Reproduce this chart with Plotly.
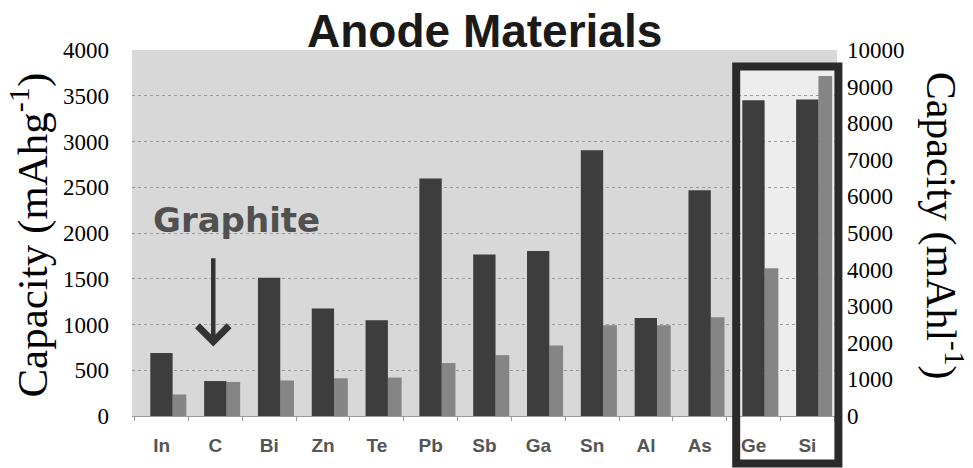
import plotly.graph_objects as go

# ---- data ----
materials = ["In", "C", "Bi", "Zn", "Te", "Pb", "Sb", "Ga", "Sn", "Al", "As", "Ge", "Si"]
# gravimetric capacity, mAh/g (lighter bars, left axis)
grav_mAh_g = [235, 372, 388, 412, 420, 578, 665, 770, 993, 993, 1080, 1615, 3715]
# volumetric capacity, mAh/L (darker bars, right axis)
vol_mAh_l = [1720, 955, 3780, 2935, 2615, 6490, 4410, 4510, 7260, 2680, 6170, 8630, 8650]
left_ticks = [0, 500, 1000, 1500, 2000, 2500, 3000, 3500, 4000]
right_ticks = [0, 1000, 2000, 3000, 4000, 5000, 6000, 7000, 8000, 9000, 10000]
right_tick_text = [str(v) for v in right_ticks]

DARK = "#3d3d3d"
LIGHT = "#858585"
SERIF = "Liberation Serif"
SANS = "Liberation Sans"

fig = go.Figure()
fig.add_trace(go.Bar(
    x=materials, y=vol_mAh_l, yaxis="y2", name="mAh/L",
    marker=dict(color=DARK, line=dict(width=0)),
    offset=-0.21, width=0.415,
))
fig.add_trace(go.Bar(
    x=materials, y=grav_mAh_g, yaxis="y", name="mAh/g",
    marker=dict(color=LIGHT, line=dict(width=0)),
    offset=0.205, width=0.255,
))

fig.update_layout(
    width=973, height=468,
    margin=dict(l=132, r=136, t=50, b=52, autoexpand=False),
    paper_bgcolor="white",
    plot_bgcolor="#d8d8d8",
    showlegend=False,
    barmode="overlay",
    xaxis=dict(
        type="category", range=[-0.55, 12.55], automargin=False,
        tickson="boundaries", ticks="outside", ticklen=4, tickcolor="#9a9a9a",
        showline=True, linecolor="#9a9a9a", linewidth=1,
        showgrid=False,
        tickfont=dict(family=SANS, size=19, color="#555555", weight="bold"),
        ticklabelstandoff=12,
    ),
    yaxis=dict(
        range=[0, 4000], tickvals=left_ticks, automargin=False,
        showgrid=True, gridcolor="#9a9a9a", griddash="dot", gridwidth=1,
        zeroline=False, ticks="", ticklabelstandoff=22,
        tickfont=dict(family=SERIF, size=23, color="black"),
    ),
    yaxis2=dict(
        range=[0, 10000], tickvals=right_ticks, ticktext=right_tick_text,
        overlaying="y", side="right", automargin=False,
        showgrid=False, zeroline=False, ticks="", ticklabelstandoff=9,
        tickfont=dict(family=SERIF, size=23, color="black"),
    ),
)

# lighter area inside the highlight box
fig.add_shape(type="rect", xref="paper", yref="paper",
              x0=0.862, x1=1.0, y0=0, y1=0.945,
              fillcolor="rgba(255,255,255,0.55)", line=dict(width=0), layer="below")
# highlight box round Ge and Si
fig.add_shape(type="rect", xref="paper", yref="paper",
              x0=0.857, x1=1.002, y0=-0.13, y1=0.955,
              line=dict(color="#2a2a2a", width=8), fillcolor="rgba(0,0,0,0)")

# title
fig.add_annotation(text="<b>Anode Materials</b>", xref="paper", yref="paper",
                   x=(484.5 - 132) / 705, y=1.0, yshift=19, showarrow=False,
                   font=dict(family=SANS, size=46, color="#1a1a1a"),
                   xanchor="center", yanchor="middle")
# axis titles
fig.add_annotation(text="Capacity (mAhg<sup>-1</sup>)", xref="paper", yref="paper",
                   x=0, xshift=-102, y=0.493, showarrow=False, textangle=-90,
                   font=dict(family=SERIF, size=43, color="black"),
                   xanchor="center", yanchor="middle")
fig.add_annotation(text="Capacity (mAhl<sup>-1</sup>)", xref="paper", yref="paper",
                   x=1, xshift=107, y=0.52, showarrow=False, textangle=90,
                   font=dict(family=SERIF, size=42, color="black"),
                   xanchor="center", yanchor="middle")
# graphite label with arrow
fig.add_annotation(text="<b>Graphite</b>", xref="x", yref="y",
                   x=1.4, y=2140, showarrow=False,
                   font=dict(family="DejaVu Sans", size=34, color="#505050"))
fig.add_annotation(x=0.96, y=760, ax=0.96, ay=1740, xref="x", yref="y",
                   axref="x", ayref="y", text="", showarrow=True,
                   arrowhead=4, arrowsize=1.35, arrowwidth=4.5, arrowcolor="#333333")

fig.write_html("out.html", config={"displayModeBar": False},
               post_script="document.body.style.margin='0px';")
